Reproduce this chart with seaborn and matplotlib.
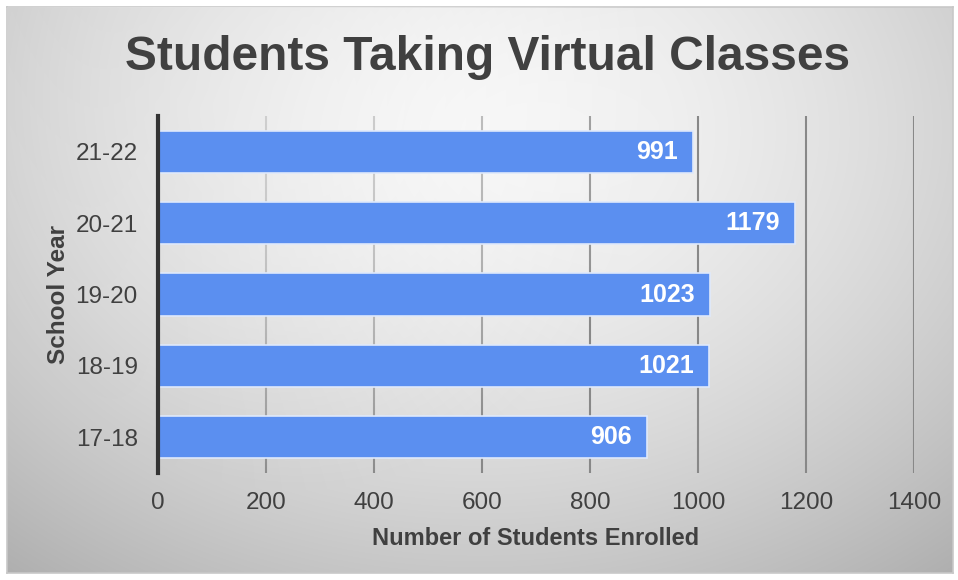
import numpy as np
import pandas as pd
import matplotlib
matplotlib.use("Agg")
import matplotlib.pyplot as plt
import seaborn as sns

years = ["21-22", "20-21", "19-20", "18-19", "17-18"]
students = [991, 1179, 1023, 1021, 906]
x_ticks = [0, 200, 400, 600, 800, 1000, 1200, 1400]

title = "Students Taking Virtual Classes"
x_label = "Number of Students Enrolled"
y_label = "School Year"

sns.set_theme(style="white")
plt.rcParams["font.family"] = ["Liberation Sans", "DejaVu Sans"]

W, H = 958, 580
fig = plt.figure(figsize=(W / 100, H / 100), dpi=100, facecolor="white")

# ---- background panel: target gradient, glow overlay ----
bx0, by0, bx1, by1 = 7, 7, 953, 573
pw, ph = bx1 - bx0, by1 - by0
px = np.arange(bx0, bx1) + 0.5
py = np.arange(by0, by1) + 0.5
PX, PY = np.meshgrid(px, py)
GX = (PX - bx0) / pw
GY = (PY - by0) / ph
r = np.sqrt(((GX - 0.5) / 0.75) ** 2 + ((GY - 0.22) / 0.95) ** 2)
target = 0.97 - 0.26 * np.clip(r, 0, 1.2) ** 1.6
rg = ((PX - 300) / 360) ** 2 + ((PY - 100) / 390) ** 2
glow_a = 0.6 * np.clip(1 - rg, 0, 1)
base = np.clip((target - glow_a) / (1 - glow_a), 0, 1)

panel_rect = [bx0 / W, 1 - by1 / H, pw / W, ph / H]
bg = fig.add_axes(panel_rect, zorder=0)
bg.imshow(np.dstack([base, base, base]), extent=[bx0, bx1, by1, by0],
          aspect="auto", interpolation="bilinear")
bg.set_xlim(bx0, bx1); bg.set_ylim(by1, by0)
bg.set_xticks([]); bg.set_yticks([])
for s in bg.spines.values():
    s.set_color("#c8c8c8"); s.set_linewidth(1.2)

# ---- plotting area ----
L, R, T, B = 158, 914, 116, 473
ax_rect = [L / W, 1 - B / H, (R - L) / W, (B - T) / H]

# gridlines (below the glow)
axg = fig.add_axes(ax_rect, zorder=1)
axg.patch.set_alpha(0)
axg.set_xlim(0, 1400)
axg.set_ylim(4.5, -0.5)
axg.set_xticks(x_ticks)
axg.set_yticks([])
axg.xaxis.grid(True, color="#888888", linewidth=1.5)
axg.tick_params(length=0, labelbottom=False, labelleft=False)
for s in axg.spines.values():
    s.set_visible(False)

# glow overlay
gl = fig.add_axes(panel_rect, zorder=2)
gl.patch.set_alpha(0)
ones = np.ones_like(glow_a)
gl.imshow(np.dstack([ones, ones, ones, glow_a]), extent=[bx0, bx1, by1, by0],
          aspect="auto", interpolation="bilinear")
gl.set_xlim(bx0, bx1); gl.set_ylim(by1, by0)
gl.axis("off")

# bars
ax = fig.add_axes(ax_rect, zorder=3)
ax.patch.set_alpha(0)
df = pd.DataFrame({"year": years, "students": students})
sns.barplot(data=df, y="year", x="students", orient="h", ax=ax,
            color="#5b8ff0", saturation=1, width=0.59,
            edgecolor="#dfe9fb", linewidth=1.2)

ax.set_xlim(0, 1400)
ax.set_ylim(4.5, -0.5)
ax.set_xticks(x_ticks)
ax.set_xticklabels([str(t) for t in x_ticks])
ax.grid(False)
for k in ["top", "right", "bottom"]:
    ax.spines[k].set_visible(False)
ax.spines["left"].set_color("#333333")
ax.spines["left"].set_linewidth(3)
ax.tick_params(axis="x", length=0, pad=14, labelsize=17.5, labelcolor="#404040")
ax.tick_params(axis="y", length=0, pad=14.5, labelsize=17.5, labelcolor="#404040")

for i, v in enumerate(students):
    ax.annotate(str(v), xy=(v, i), xytext=(-11, 0), textcoords="offset points",
                ha="right", va="center", color="white", fontsize=18,
                fontweight="bold")

ax.set_xlabel(x_label, fontsize=17, fontweight="bold", color="#404040")
ax.set_ylabel(y_label, fontsize=17.5, fontweight="bold", color="#404040")
ax.xaxis.set_label_coords(0.5, -0.152)
ax.yaxis.set_label_coords(-0.117, 0.5)

fig.text(488 / W, 1 - 58 / H, title, ha="center", va="center",
         fontsize=34.5, fontweight="bold", color="#404040", zorder=5)

fig.savefig("out.png", dpi=100, facecolor="white")
